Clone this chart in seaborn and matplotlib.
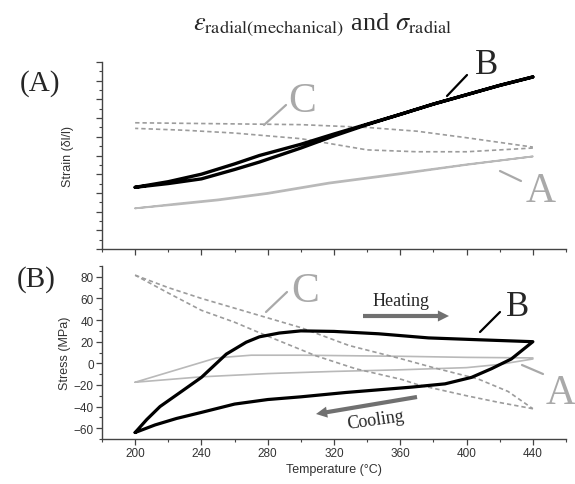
import numpy as np
import pandas as pd
import matplotlib
matplotlib.use("Agg")
import matplotlib.pyplot as plt
from matplotlib.lines import Line2D
from matplotlib.patches import FancyArrowPatch
from matplotlib.ticker import MultipleLocator, NullFormatter
import seaborn as sns

# ---------------- data ----------------
# Panel (A): strain (arbitrary units)
b_strain_heat_T = [200, 220, 240, 260, 275, 300, 320, 340, 360, 380, 400, 420, 440]
b_strain_heat = [6.6, 7.0, 7.5, 8.5, 9.3, 10.8, 12.1, 13.3, 14.4, 15.5, 16.5, 17.5, 18.4]
b_strain_cool_T = [440, 420, 400, 380, 360, 340, 320, 300, 275, 260, 240, 220, 200]
b_strain_cool = [18.4, 17.5, 16.5, 15.5, 14.4, 13.35, 12.3, 11.2, 10.0, 9.1, 8.0, 7.2, 6.6]

a_strain_heat_T = [200, 225, 250, 280, 317, 360, 400, 440]
a_strain_heat = [4.35, 4.75, 5.2, 5.9, 7.0, 8.0, 9.0, 9.9]
a_strain_cool_T = [440, 400, 360, 317, 280, 250, 225, 200]
a_strain_cool = [9.9, 9.05, 8.1, 7.1, 6.0, 5.3, 4.85, 4.35]

c_strain_up_T = [200, 250, 300, 340, 370, 400, 420, 440]
c_strain_up = [13.5, 13.4, 13.3, 13.0, 12.6, 11.9, 11.4, 10.9]
c_strain_lo_T = [440, 420, 400, 370, 340, 320, 300, 260, 230, 200]
c_strain_lo = [10.8, 10.6, 10.4, 10.4, 10.6, 11.2, 11.8, 12.4, 12.7, 12.9]

# Panel (B): stress (MPa)
b_stress_heat_T = [200, 207, 215, 228, 240, 255, 267, 275, 287, 300, 320, 347, 377, 407, 440]
b_stress_heat = [-64, -52, -40, -26, -13, 8.5, 19.5, 24.5, 28, 30, 29.5, 27.3, 23.5, 21.8, 20]
b_stress_cool_T = [440, 427, 415, 403, 387, 367, 327, 300, 280, 260, 240, 225, 212, 200]
b_stress_cool = [20, 4, -5, -13, -19, -22, -27, -31, -33.5, -37.7, -45.4, -51, -57, -64]

a_stress_heat_T = [200, 249, 270, 300, 360, 400, 440]
a_stress_heat = [-17.5, 5, 7.5, 7.5, 6.5, 5.5, 5]
a_stress_cool_T = [440, 420, 400, 360, 320, 280, 240, 200]
a_stress_cool = [4, -1, -4, -6, -7.5, -9.5, -12.5, -17.5]

c_stress_up_T = [200, 220, 240, 260, 280, 300, 329, 361, 380, 407, 425, 440]
c_stress_up = [81.5, 70, 60, 51, 42, 33, 16.5, 4, -4, -14.5, -26, -42]
c_stress_lo_T = [440, 419, 400, 371, 361, 333, 309, 277, 260, 240, 220, 200]
c_stress_lo = [-42, -36, -30, -20, -15, -5, 7, 27, 38, 49, 65, 81.5]

x_ticks = [200, 240, 280, 320, 360, 400, 440]
stress_ticks = [-60, -40, -20, 0, 20, 40, 60, 80]


def loop_df(t1, v1, t2, v2):
    t = list(t1) + list(t2)
    v = list(v1) + list(v2)
    return pd.DataFrame({"T": t, "v": v, "order": range(len(t))})


# ---------------- style ----------------
sns.set_style("ticks")
plt.rcParams["font.family"] = ["Liberation Sans", "DejaVu Sans"]
plt.rcParams["mathtext.fontset"] = "stix"

W, H = 575, 485
fig = plt.figure(figsize=(W / 100, H / 100), dpi=100)


def fx(x):
    return x / W


def fy(y):
    return 1 - y / H


ax1 = fig.add_axes([fx(102), fy(250), (566 - 102) / W, (250 - 63) / H])
ax2 = fig.add_axes([fx(102), fy(440), (566 - 102) / W, (440 - 267) / H])

grey_a = "#b9b9b9"
grey_c = "#9c9c9c"
letter_grey = "#a9a9a9"
dash = (0, (2.6, 1.8))

# panel A curves
sns.lineplot(data=loop_df(a_strain_heat_T, a_strain_heat, a_strain_cool_T, a_strain_cool),
             x="T", y="v", sort=False, estimator=None, color=grey_a, lw=1.3, ax=ax1)
sns.lineplot(data=pd.DataFrame({"T": c_strain_up_T, "v": c_strain_up}),
             x="T", y="v", sort=False, estimator=None, color=grey_c, lw=1.2,
             linestyle=dash, ax=ax1)
sns.lineplot(data=pd.DataFrame({"T": c_strain_lo_T, "v": c_strain_lo}),
             x="T", y="v", sort=False, estimator=None, color=grey_c, lw=1.2,
             linestyle=dash, ax=ax1)
sns.lineplot(data=loop_df(b_strain_heat_T, b_strain_heat, b_strain_cool_T, b_strain_cool),
             x="T", y="v", sort=False, estimator=None, color="black", lw=2.4, ax=ax1)

# panel B curves
sns.lineplot(data=loop_df(a_stress_heat_T, a_stress_heat, a_stress_cool_T, a_stress_cool),
             x="T", y="v", sort=False, estimator=None, color=grey_a, lw=1.2, ax=ax2)
sns.lineplot(data=pd.DataFrame({"T": c_stress_up_T, "v": c_stress_up}),
             x="T", y="v", sort=False, estimator=None, color=grey_c, lw=1.2,
             linestyle=dash, ax=ax2)
sns.lineplot(data=pd.DataFrame({"T": c_stress_lo_T, "v": c_stress_lo}),
             x="T", y="v", sort=False, estimator=None, color=grey_c, lw=1.2,
             linestyle=dash, ax=ax2)
sns.lineplot(data=loop_df(b_stress_heat_T, b_stress_heat, b_stress_cool_T, b_stress_cool),
             x="T", y="v", sort=False, estimator=None, color="black", lw=2.3, ax=ax2)

# axes formatting
tick_col = "#444444"
for ax in (ax1, ax2):
    ax.set_xlim(180, 460)
    ax.xaxis.set_major_locator(MultipleLocator(40))
    ax.xaxis.set_minor_locator(MultipleLocator(20))
    for s in ("top", "right"):
        ax.spines[s].set_visible(False)
    for s in ("left", "bottom"):
        ax.spines[s].set_color(tick_col)
        ax.spines[s].set_linewidth(1.0)
    ax.tick_params(which="major", direction="out", length=4, width=0.9,
                   color=tick_col, labelcolor="#333333", labelsize=8.5, pad=2)
    ax.tick_params(which="minor", direction="out", length=2.5, width=0.8, color=tick_col)

ax1.set_ylim(0, 20)
ax1.yaxis.set_major_locator(MultipleLocator(2))
ax1.yaxis.set_minor_locator(MultipleLocator(1))
ax1.xaxis.set_major_formatter(NullFormatter())
ax1.yaxis.set_major_formatter(NullFormatter())
ax1.set_xlabel("")
ax1.set_ylabel("Strain (δl/l)", fontsize=9, color="#333333", labelpad=14)

ax2.set_ylim(-70, 90)
ax2.set_yticks(stress_ticks)
ax2.yaxis.set_minor_locator(MultipleLocator(10))
ax2.set_xticks(x_ticks)
ax2.set_xlabel("Temperature (°C)", fontsize=9, color="#333333", labelpad=3)
ax2.set_ylabel("Stress (MPa)", fontsize=9, color="#333333", labelpad=2)

# ---------------- annotations ----------------
serif = ["Liberation Serif", "DejaVu Serif"]
fig.text(fx(323), fy(25),
         r"$\varepsilon_{\mathrm{radial(mechanical)}}$ and $\sigma_{\mathrm{radial}}$",
         ha="center", va="center", fontsize=19, family=serif)
fig.text(fx(40), fy(84), "(A)", ha="center", va="center", fontsize=21, family=serif)
fig.text(fx(36), fy(280), "(B)", ha="center", va="center", fontsize=21, family=serif)


def lead(x0, y0, x1, y1, color, lw=1.6):
    fig.add_artist(Line2D([fx(x0), fx(x1)], [fy(y0), fy(y1)], color=color, lw=lw,
                          transform=fig.transFigure))


# top panel labels
fig.text(fx(487), fy(66), "B", ha="center", va="center", fontsize=25, family=serif)
lead(447, 97, 467, 76, "black")
fig.text(fx(302), fy(102), "C", ha="center", va="center", fontsize=30, family=serif, color=letter_grey)
lead(264, 126, 286, 106, letter_grey)
fig.text(fx(541), fy(192), "A", ha="center", va="center", fontsize=30, family=serif, color=letter_grey)
lead(500, 172, 521, 182, letter_grey)

# bottom panel labels
fig.text(fx(305), fy(292), "C", ha="center", va="center", fontsize=30, family=serif, color=letter_grey)
lead(266, 313, 287, 293, letter_grey)
fig.text(fx(518), fy(308), "B", ha="center", va="center", fontsize=25, family=serif)
lead(480, 333, 500, 313, "black")
fig.text(fx(561), fy(394), "A", ha="center", va="center", fontsize=30, family=serif, color=letter_grey)
lead(522, 366, 543, 375, letter_grey)

fig.text(fx(401), fy(302), "Heating", ha="center", va="center", fontsize=13, family=serif)
fig.text(fx(376), fy(421), "Cooling", ha="center", va="center", fontsize=13, family=serif, rotation=8)

arrow_col = "#707070"
for (x0, y0, x1, y1) in [(363, 317, 449, 317), (417, 398, 316, 415)]:
    fig.add_artist(FancyArrowPatch((fx(x0), fy(y0)), (fx(x1), fy(y1)),
                                   transform=fig.transFigure,
                                   arrowstyle="simple,head_width=8,head_length=8,tail_width=3",
                                   color=arrow_col, mutation_scale=1, lw=0,
                                   shrinkA=0, shrinkB=0))

fig.savefig("out.png", dpi=100)
